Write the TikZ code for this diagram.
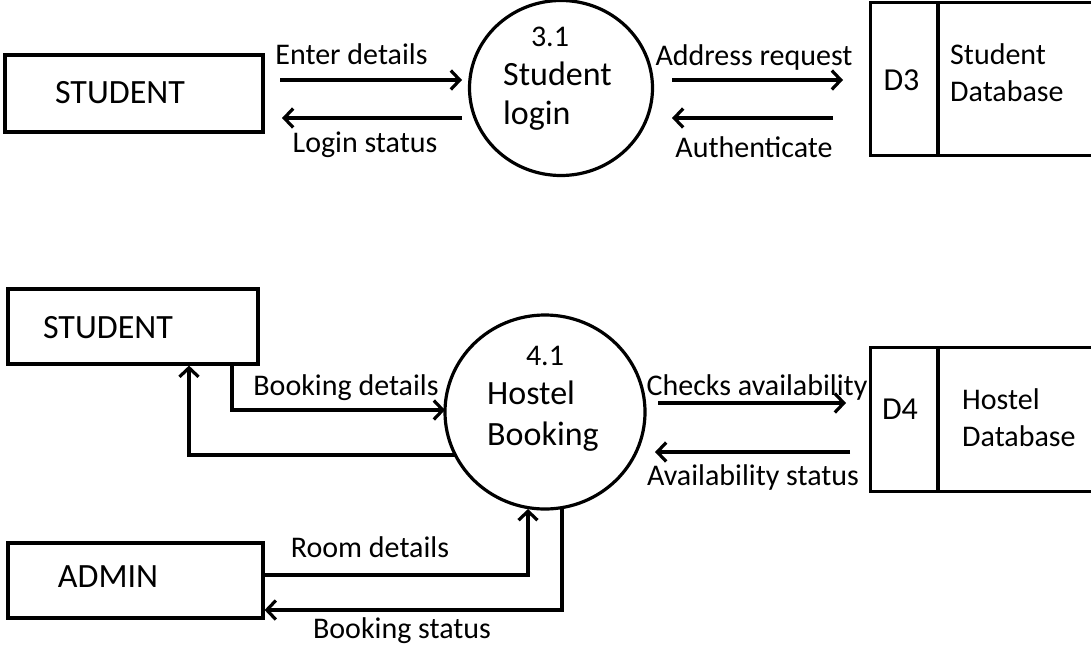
\documentclass[tikz,border=0pt]{standalone}
\usepackage{fontspec}
\setmainfont{Carlito}
\usetikzlibrary{arrows.meta,shapes.geometric}
\begin{document}
\begin{tikzpicture}[x=1pt,y=-1pt,
  ln/.style={line width=3.2pt},
  tip/.tip={Straight Barb[length=9pt,width=19pt,line width=3.2pt]},
  arr/.style={ln,-tip},
  ent/.style={draw,ln,rectangle,inner sep=0pt},
  proc/.style={draw,ln,ellipse,inner sep=0pt},
  store/.style={inner sep=0pt,rectangle},
  lbl/.style={font=\fontsize{30}{36}\selectfont,anchor=base,inner sep=0pt},
  big/.style={font=\fontsize{34}{40}\selectfont,anchor=base,inner sep=0pt},
  mid/.style={font=\fontsize{32}{38}\selectfont,anchor=base,inner sep=0pt},
]
\useasboundingbox (0,0) rectangle (1091,645);

% ---------- top diagram ----------
\node[ent,minimum width=258pt,minimum height=77pt] (stu1) at (134,93.5) {};
\node[big] (stu1t) at (120,103) {STUDENT};

\node[proc,minimum width=183pt,minimum height=175pt] (sl) at (561,88) {};
\node[lbl] (sln) at (550,46) {3.1};
\node[big,anchor=base west] (slt1) at (503,85) {Student};
\node[big,anchor=base west] (slt2) at (503,124) {login};

\node[store,minimum width=220pt,minimum height=152pt] (d3) at (981,79) {};
\draw[ln] (d3.north east) -- (d3.north west) -- (d3.south west) -- (d3.south east);
\coordinate (d3div) at (938,0);
\draw[ln] (d3.north west -| d3div) -- (d3.south west -| d3div);
\node[mid] (d3id) at (901.5,90) {D3};
\node[lbl,anchor=base west] (d3t1) at (950,64) {Student};
\node[lbl,anchor=base west] (d3t2) at (950,101) {Database};

\coordinate (ed1) at (280,80);  \coordinate (ed2) at (462,80);
\coordinate (ls1) at (462,118); \coordinate (ls2) at (282,118);
\draw[arr] (ed1) -- (ed2);
\draw[arr] (ls1) -- (ls2);
\node[lbl] (edl) at (351.5,64) {Enter details};
\node[lbl] (lsl) at (365,152) {Login status};

\coordinate (ar1) at (672,80);  \coordinate (ar2) at (843,80);
\coordinate (au1) at (833,118); \coordinate (au2) at (672,118);
\draw[arr] (ar1) -- (ar2);
\draw[arr] (au1) -- (au2);
\node[lbl] (arl) at (754,65) {Address request};
\node[lbl] (aul) at (754,157) {Authenticate};

% ---------- bottom diagram ----------
\node[ent,minimum width=250pt,minimum height=75pt] (stu2) at (133,326.5) {};
\node[big] (stu2t) at (108,338) {STUDENT};

\node[ent,minimum width=255pt,minimum height=75pt] (adm) at (135.5,580.5) {};
\node[big] (admt) at (108,587) {ADMIN};

\node[proc,minimum width=200pt,minimum height=194pt] (hb) at (545,412) {};
\node[lbl] (hbn) at (545,365) {4.1};
\node[big,anchor=base west] (hbt1) at (487,404) {Hostel};
\node[big,anchor=base west] (hbt2) at (487,445) {Booking};

\node[store,minimum width=220pt,minimum height=143pt] (d4) at (981,419.5) {};
\draw[ln] (d4.north east) -- (d4.north west) -- (d4.south west) -- (d4.south east);
\draw[ln] (d4.north west -| d3div) -- (d4.south west -| d3div);
\node[mid] (d4id) at (900,419) {D4};
\node[lbl,anchor=base west] (d4t1) at (962,409) {Hostel};
\node[lbl,anchor=base west] (d4t2) at (962,446) {Database};

% student <-> booking
\coordinate (bdx) at (232,0);
\coordinate (bdend) at (445,410);
\draw[arr] (stu2.south -| bdx) |- (bdend);
\node[lbl] (bdl) at (346,395) {Booking details};
\coordinate (rtx) at (189,0);
\coordinate (rtst) at (455,455);
\draw[arr] (rtst) -| (stu2.south -| rtx);

% booking <-> data store
\coordinate (ca1) at (658,403); \coordinate (ca2) at (846,403);
\coordinate (as1) at (850,452); \coordinate (as2) at (655,452);
\draw[arr] (ca1) -- (ca2);
\draw[arr] (as1) -- (as2);
\node[lbl] (cal) at (757,395) {Checks availability};
\node[lbl] (asl) at (753,485) {Availability status};

% admin <-> booking
\coordinate (rdy) at (0,575);
\coordinate (rdtip) at (528,509);
\draw[arr] (adm.east |- rdy) -| (rdtip);
\node[lbl] (rdl) at (370,557) {Room details};
\coordinate (bstop) at (562,508);
\coordinate (bsy) at (0,610);
\draw[arr] (bstop) |- (adm.east |- bsy);
\node[lbl] (bsl) at (402,638) {Booking status};
\end{tikzpicture}
\end{document}
